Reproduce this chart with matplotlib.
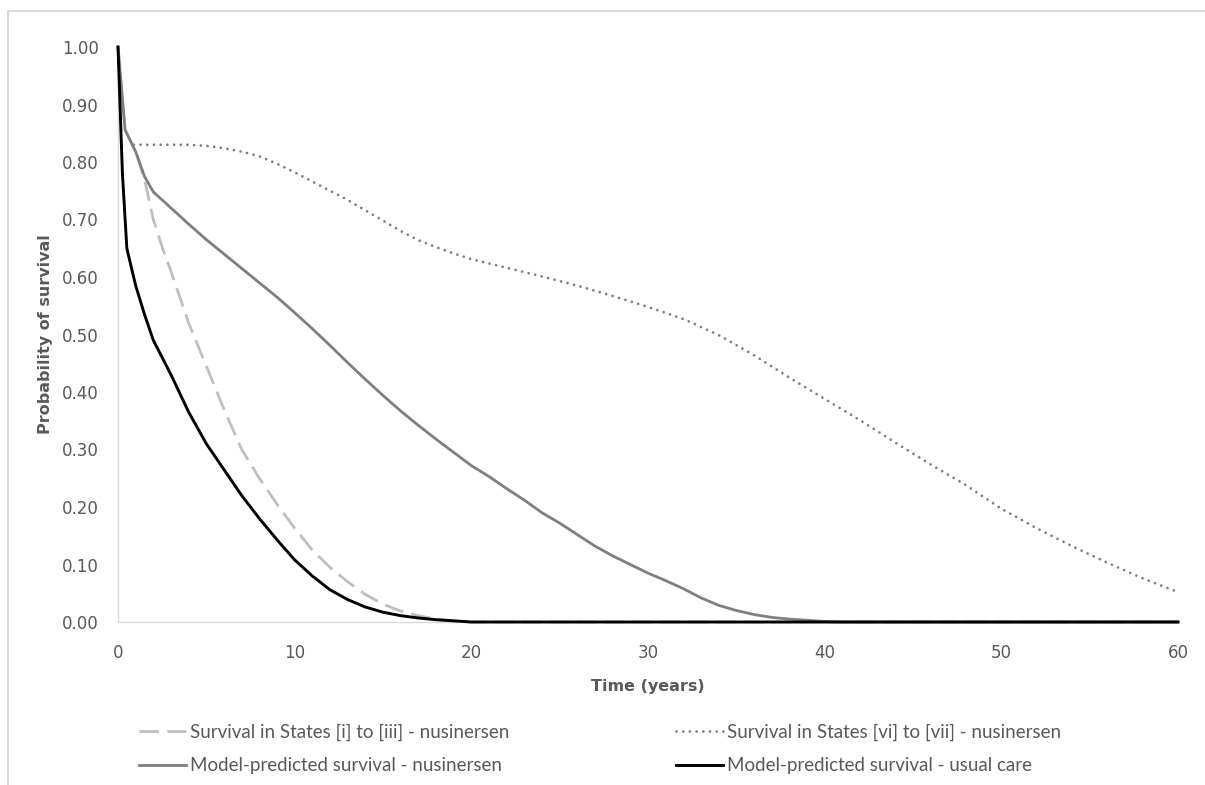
import matplotlib.pyplot as plt
from matplotlib.lines import Line2D

# Model-predicted survival - usual care
t_usual = [0, 0.25, 0.5, 1, 1.5, 2, 3, 4, 5, 6, 7, 8, 9, 10, 11, 12, 13, 14, 15,
           16, 17, 18, 19, 20, 60]
s_usual = [1.00, 0.78, 0.65, 0.585, 0.535, 0.49, 0.43, 0.365, 0.31, 0.265, 0.22,
           0.18, 0.143, 0.108, 0.08, 0.056, 0.039, 0.026, 0.017, 0.011, 0.007,
           0.004, 0.002, 0.0, 0.0]

# Model-predicted survival - nusinersen
t_nus = [0, 0.4, 1, 1.5, 2, 3, 4, 5, 6, 7, 8, 9, 10, 11, 12, 13, 14, 15, 16, 17,
         18, 19, 20, 21, 22, 23, 24, 25, 26, 27, 28, 29, 30, 31, 32, 33, 34, 35,
         36, 37, 38, 39, 40, 41, 60]
s_nus = [1.00, 0.856, 0.818, 0.775, 0.748, 0.72, 0.692, 0.665, 0.64, 0.615, 0.59,
         0.565, 0.538, 0.51, 0.481, 0.451, 0.422, 0.394, 0.367, 0.342, 0.318, 0.295,
         0.272, 0.253, 0.232, 0.212, 0.19, 0.172, 0.152, 0.132, 0.115, 0.10, 0.085,
         0.072, 0.058, 0.042, 0.029, 0.02, 0.013, 0.008, 0.005, 0.003, 0.001, 0.0,
         0.0]

# Survival in States [i] to [iii] - nusinersen
t_early = [0, 0.4, 1, 1.5, 2, 2.5, 3, 3.5, 4, 5, 6, 7, 8, 9, 10, 11, 12, 13, 14,
           15, 16, 17, 18, 19, 20, 60]
s_early = [1.00, 0.856, 0.818, 0.77, 0.70, 0.652, 0.61, 0.565, 0.52, 0.445, 0.37,
           0.30, 0.25, 0.205, 0.163, 0.125, 0.095, 0.07, 0.048, 0.031, 0.019, 0.011,
           0.005, 0.002, 0.0, 0.0]

# Survival in States [vi] to [vii] - nusinersen
t_late = [0.9, 2, 3, 4, 5, 6, 7, 8, 9, 10, 11, 12, 13, 14, 15, 16, 17, 18, 19, 20,
          22, 24, 26, 28, 30, 32, 34, 36, 38, 40, 42, 44, 46, 48, 50, 52, 54, 56,
          58, 60]
s_late = [0.83, 0.83, 0.83, 0.83, 0.828, 0.824, 0.818, 0.81, 0.797, 0.782, 0.766,
          0.75, 0.734, 0.716, 0.698, 0.68, 0.664, 0.652, 0.641, 0.631, 0.616, 0.601,
          0.585, 0.567, 0.548, 0.527, 0.499, 0.464, 0.425, 0.388, 0.351, 0.312,
          0.274, 0.238, 0.197, 0.163, 0.132, 0.103, 0.076, 0.052]

x_ticks = [0, 10, 20, 30, 40, 50, 60]
y_ticks = [0.0, 0.1, 0.2, 0.3, 0.4, 0.5, 0.6, 0.7, 0.8, 0.9, 1.0]

label_early = 'Survival in States [i] to [iii] - nusinersen'
label_late = 'Survival in States [vi] to [vii] - nusinersen'
label_nus = 'Model-predicted survival - nusinersen'
label_usual = 'Model-predicted survival - usual care'

txt = '#595959'

fig = plt.figure(figsize=(12.05, 7.85), dpi=100)
ax = fig.add_axes([118 / 1205, 163 / 785, 1060 / 1205, 575 / 785])

l_late, = ax.plot(t_late, s_late, color='#7F7F7F', lw=2.0, dashes=(0.01, 2.4),
                  dash_capstyle='round', zorder=2, clip_on=False)
l_early, = ax.plot(t_early, s_early, color='#BFBFBF', lw=2.0, dashes=(7, 3),
                   zorder=3, clip_on=False)
l_nus, = ax.plot(t_nus, s_nus, color='#7F7F7F', lw=2.0, zorder=4, clip_on=False)
l_usual, = ax.plot(t_usual, s_usual, color='black', lw=2.1, zorder=5,
                   clip_on=False)

ax.set_xlim(0, 60)
ax.set_ylim(0, 1.0)
ax.set_xticks(x_ticks)
ax.set_xticklabels([str(v) for v in x_ticks])
ax.set_yticks(y_ticks)
ax.set_yticklabels(['%.2f' % v for v in y_ticks])
ax.tick_params(length=0, labelsize=12, labelcolor=txt)
ax.tick_params(axis='y', pad=14)
ax.tick_params(axis='x', pad=16)

for s in ['top', 'right']:
    ax.spines[s].set_visible(False)
for s in ['left', 'bottom']:
    ax.spines[s].set_color('#D9D9D9')
    ax.spines[s].set_linewidth(1.0)

ax.set_xlabel('Time (years)', fontsize=11.5, fontweight='bold', color=txt,
              labelpad=12)
ax.set_ylabel('Probability of survival', fontsize=11.5, fontweight='bold',
              color=txt, labelpad=6)

leg = fig.legend([l_early, l_nus, l_late, l_usual],
                 [label_early, label_nus, label_late, label_usual],
                 ncol=2, loc='center', bbox_to_anchor=(600 / 1205, 36 / 785),
                 frameon=False, handlelength=2.5, handletextpad=0.2,
                 columnspacing=8.9, labelspacing=0.85,
                 prop={'family': 'Lato', 'size': 13.5})
for t in leg.get_texts():
    t.set_color(txt)

# outer chart frame (top and left edges)
fig.add_artist(Line2D([8 / 1205, 1], [1 - 11 / 785, 1 - 11 / 785],
                      transform=fig.transFigure, color='#D9D9D9', lw=1.5))
fig.add_artist(Line2D([8 / 1205, 8 / 1205], [0, 1 - 11 / 785],
                      transform=fig.transFigure, color='#D9D9D9', lw=1.5))

fig.savefig('out.png', dpi=100)
